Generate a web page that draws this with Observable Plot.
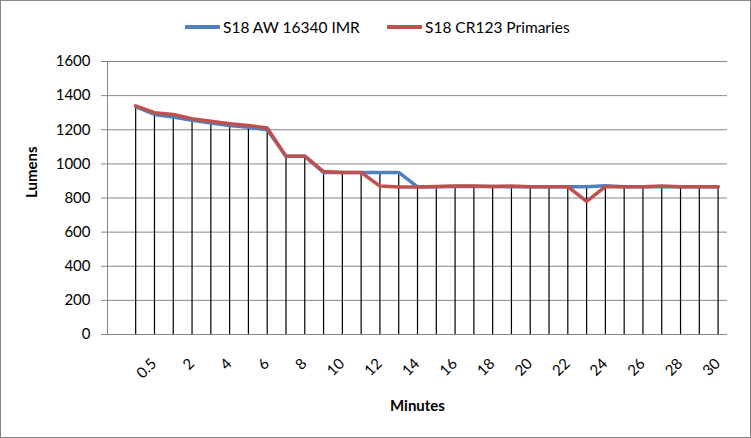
<!DOCTYPE html>
<html>
<head>
<meta charset="utf-8">
<script src="https://cdn.jsdelivr.net/npm/d3@7"></script>
<script src="https://cdn.jsdelivr.net/npm/@observablehq/plot@0.6"></script>
<style>
  body { margin: 0; background: #fff; }
  #chart { position: relative; width: 751px; height: 438px; box-sizing: border-box; border: 1px solid #868686; background: #fff; font-family: Lato, "Open Sans", sans-serif; }
  #legend { position: relative; height: 49px; }
  .lg { position: absolute; top: 17px; display: flex; align-items: center; font-size: 15.5px; color: #000; white-space: nowrap; }
  .sw { display: inline-block; width: 35px; height: 4px; margin-right: 3px; }
  svg { display: block; }
</style>
</head>
<body>
<div id="chart">
  <div id="legend"></div>
  <div id="plot"></div>
</div>
<script>
// Category labels of the x axis (first category is blank in the source sheet)
const minutes = ["", "0", "0.5", "1", "2", "3", "4", "5", "6", "7", "8", "9", "10", "11", "12", "13", "14", "15",
  "16", "17", "18", "19", "20", "21", "22", "23", "24", "25", "26", "27", "28", "29", "30"];
const seriesNames = ["S18 AW 16340 IMR", "S18 CR123 Primaries"];
const seriesColors = ["#4F81BD", "#C0504D"];
// Lumens for minutes 0 .. 30 (blank category has no value)
const aw16340 = [1335, 1290, 1275, 1255, 1240, 1225, 1215, 1200, 1045, 1045, 950, 950, 950, 950, 950, 865,
  866, 868, 868, 868, 866, 866, 866, 866, 866, 872, 866, 866, 866, 866, 866, 866];
const cr123 = [1340, 1300, 1290, 1265, 1250, 1235, 1225, 1210, 1045, 1045, 955, 950, 950, 870, 865, 865,
  868, 870, 870, 868, 870, 866, 866, 866, 780, 866, 866, 866, 870, 866, 866, 866];
const yTicks = [0, 200, 400, 600, 800, 1000, 1200, 1400, 1600];
const xTickLabels = minutes.filter((d, i) => i % 2 === 0 && i > 0);

const cats = minutes.slice(1);
const rows = [];
[aw16340, cr123].forEach((vals, s) => vals.forEach((v, i) => rows.push({series: seriesNames[s], minute: cats[i], lumens: v})));
const drops = cats.map((m, i) => ({minute: m, top: Math.max(aw16340[i], cr123[i])}));

// legend
const legend = document.getElementById("legend");
const lgLeft = [184, 386];
seriesNames.forEach((n, i) => {
  const el = document.createElement("div");
  el.className = "lg";
  el.style.left = lgLeft[i] + "px";
  el.innerHTML = `<span class="sw" style="background:${seriesColors[i]}"></span><span>${n}</span>`;
  legend.appendChild(el);
});

const chart = Plot.plot({
  width: 749,
  height: 387,
  marginLeft: 106,
  marginRight: 23,
  marginTop: 11,
  marginBottom: 103,
  style: {fontFamily: "Lato, 'Open Sans', sans-serif", fontSize: "15px", color: "#000", background: "#fff"},
  x: {type: "point", domain: minutes, padding: 0.5, round: false, axis: null},
  y: {domain: [0, 1600], axis: null},
  color: {domain: seriesNames, range: seriesColors},
  marks: [
    Plot.gridY(yTicks, {stroke: "#868686", strokeOpacity: 1, strokeWidth: 1}),
    Plot.frame({anchor: "left", stroke: "#868686"}),
    Plot.axisY({ticks: yTicks, tickFormat: d => String(d), tickSize: 6, tickPadding: 11, stroke: "#868686", fill: "#000", fontSize: 15, label: null}),
    Plot.ruleX(drops, {x: "minute", y1: 0, y2: "top", stroke: "#000", strokeWidth: 1.2}),
    Plot.line(rows, {x: "minute", y: "lumens", z: "series", stroke: "series", strokeWidth: 3.5, strokeLinejoin: "round"}),
    Plot.text(xTickLabels, {x: d => d, frameAnchor: "bottom", dy: 30, dx: 3, rotate: -45, textAnchor: "end", lineAnchor: "bottom", fontSize: 15, fill: "#000"}),
    Plot.text(["Lumens"], {frameAnchor: "left", dx: -75, rotate: -90, fontWeight: "bold", fontSize: 15, fill: "#000"}),
    Plot.text(["Minutes"], {frameAnchor: "bottom", dx: 0, dy: 76, fontWeight: "bold", fontSize: 15, fill: "#000"})
  ]
});
document.getElementById("plot").appendChild(chart);
</script>
</body>
</html>
